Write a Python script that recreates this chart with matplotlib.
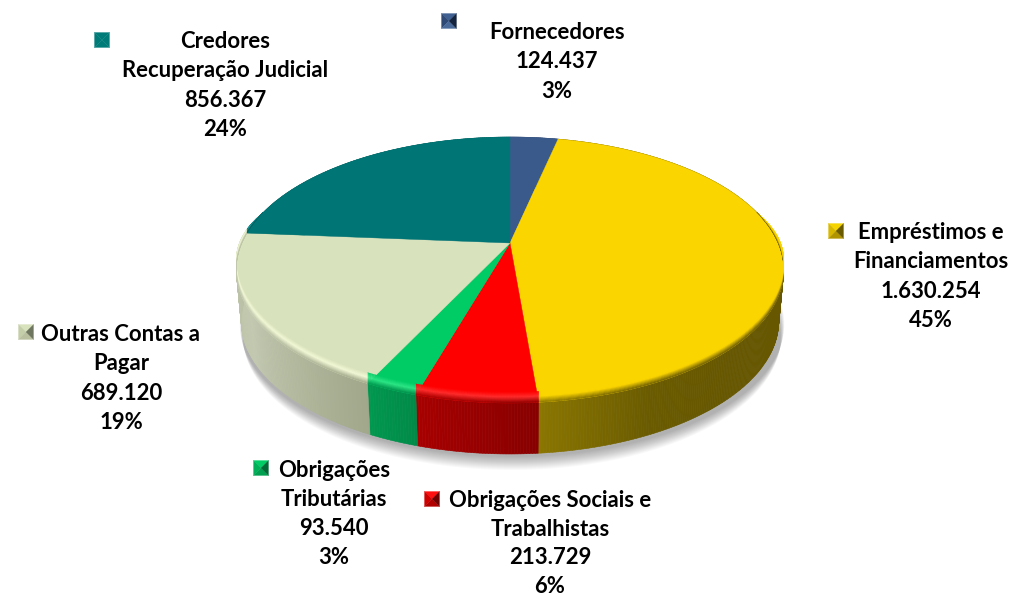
import numpy as np
import matplotlib
matplotlib.use("Agg")
import matplotlib.pyplot as plt
from matplotlib.collections import PolyCollection
from matplotlib.colors import to_rgb

# ........................ Data ........................
categories = [
    ["Fornecedores"],
    ["Empréstimos e", "Financiamentos"],
    ["Obrigações Sociais e", "Trabalhistas"],
    ["Obrigações", "Tributárias"],
    ["Outras Contas a", "Pagar"],
    ["Credores", "Recuperação Judicial"],
]
values = [124437, 1630254, 213729, 93540, 689120, 856367]

# ........................ Styles ........................
top_colors = ["#3a5a8c", "#fbd500", "#ff0000", "#00cc66", "#d8e2bc", "#007575"]
# wall colour going clockwise along each slice
wall_colors = [
    ["#2c4468", "#2c4468"],
    ["#665700"] * 7 + ["#6a5b00", "#8a7600"],
    ["#880000", "#a80000"],
    ["#008a48", "#00984f"],
    ["#a0a78a", "#c3cab0", "#b6bda2"],
    ["#005858", "#005858"],
]
bevel_light = ["#5a7aac", "#fbd500", "#ff3030", "#30e888", "#f4fad8", "#20a0a0"]
# marker triangles: top, left, bottom, right
marker_colors = [
    ["#3f6090", "#2f4a74", "#4a6a9a", "#14233e"],
    ["#f5d400", "#d8b800", "#b09400", "#6a5a00"],
    ["#ff1010", "#d00000", "#b00000", "#700000"],
    ["#00cc66", "#00b058", "#00a050", "#006a36"],
    ["#d8e2bc", "#c4cea8", "#b8c0a0", "#6f7660"],
    ["#007b78", "#007b78", "#007b78", "#007b78"],
]
# text centre x, first baseline y, line height, marker x, marker y
label_pos = [
    (557, 39, 29.4, 449, 21),
    (931, 239, 29.4, 836, 231),
    (550, 507, 28.6, 432, 499),
    (334, 477, 29.0, 261, 468),
    (121, 341, 29.4, 26, 332),
    (225, 48, 29.4, 102, 40),
]

cx, cy = 510, 243
rx, ry, persp = 268, 127.5, 0.203
depth, bottom_scale = 51, 0.982
bevel = 11


def project(theta, r=1.0):
    # theta is clockwise from the top of the disc
    x, y = r * np.sin(theta), r * np.cos(theta)
    d = 1 + persp * y
    return cx + rx * x / d, cy - ry * y / d


def blend(c1, c2, t):
    return tuple((1 - t) * a + t * b for a, b in zip(to_rgb(c1), to_rgb(c2)))


def ramp(stops, t):
    pos = t * (len(stops) - 1)
    i = min(int(pos), len(stops) - 2)
    return blend(stops[i], stops[i + 1], pos - i)


fig = plt.figure(figsize=(10.12, 5.97), dpi=100)
ax = fig.add_axes([0, 0, 1, 1])
ax.set_xlim(0, 1012)
ax.set_ylim(597, 0)
ax.axis("off")

total = sum(values)
edges = 2 * np.pi * np.concatenate([[0], np.cumsum(values)]) / total

# soft shadow under the disc
ring = np.linspace(0, 2 * np.pi, 361)
rim_x, rim_y = project(ring)
for k in range(14):
    ax.fill(cx + (rim_x - cx) * (bottom_scale + 0.001 * k) + 2,
            rim_y + depth + 16 - k, color="#000000", alpha=0.022, lw=0, zorder=1)

# walls
wall_polys, wall_cols = [], []
for i in range(len(values)):
    n = max(int((edges[i + 1] - edges[i]) / np.radians(0.5)), 2)
    th = np.linspace(edges[i], edges[i + 1], n + 1)
    xs, ys = project(th)
    for j in range(n):
        a, b = j, j + 1
        wall_polys.append([
            (xs[a], ys[a]), (xs[b], ys[b]),
            (cx + (xs[b] - cx) * bottom_scale, ys[b] + depth),
            (cx + (xs[a] - cx) * bottom_scale, ys[a] + depth),
        ])
        wall_cols.append(ramp(wall_colors[i], (j + 0.5) / n))
ax.add_collection(PolyCollection(wall_polys, facecolors=wall_cols, edgecolors=wall_cols,
                                 linewidths=0.4, zorder=2))

# top surface
for i in range(len(values)):
    th = np.linspace(edges[i], edges[i + 1], 200)
    xs, ys = project(th)
    ax.fill(np.r_[cx, xs], np.r_[cy, ys], color=top_colors[i], lw=0.3, zorder=3)

# bevel on the front of the rim, flat top -> light -> wall
bev_polys, bev_cols = [], []
layers = 12
for i in range(len(values)):
    n = max(int((edges[i + 1] - edges[i]) / np.radians(0.5)), 2)
    th = np.linspace(edges[i], edges[i + 1], n + 1)
    xs, ys = project(th)
    # bevel fades out towards the sides of the disc
    fade = np.clip((0.25 - np.cos(th)) / 0.45, 0, 1)
    for j in range(n):
        if fade[j] <= 0 and fade[j + 1] <= 0:
            continue
        wc = ramp(wall_colors[i], (j + 0.5) / n)
        for k in range(layers):
            t = (k + 0.5) / layers
            o1 = -bevel * (1 - k / layers)
            o2 = -bevel * (1 - (k + 1) / layers)
            if t < 0.45:
                c = blend(top_colors[i], bevel_light[i], t / 0.45)
            else:
                c = blend(bevel_light[i], wc, (t - 0.45) / 0.55)
            bev_polys.append([(xs[j], ys[j] + o1 * fade[j]), (xs[j + 1], ys[j + 1] + o1 * fade[j + 1]),
                              (xs[j + 1], ys[j + 1] + o2 * fade[j + 1]), (xs[j], ys[j] + o2 * fade[j])])
            bev_cols.append(c)
ax.add_collection(PolyCollection(bev_polys, facecolors=bev_cols, edgecolors=bev_cols,
                                 linewidths=0.2, zorder=4))

# labels
for i, lines in enumerate(categories):
    tx, ty, lh, mx, my = label_pos[i]
    share = round(100 * values[i] / total)
    rows = lines + [f"{values[i]:,}".replace(",", "."), f"{share}%"]
    for k, row in enumerate(rows):
        ax.text(tx, ty + k * lh, row, ha="center", va="baseline", color="black",
                family="Lato", fontweight="bold", fontsize=15.9, zorder=6)
    # pyramid marker
    s = 7.5
    corners = [(mx - s, my - s), (mx + s, my - s), (mx + s, my + s), (mx - s, my + s)]
    tris = [(0, 1), (3, 0), (2, 3), (1, 2)]
    for (p, q), col in zip(tris, marker_colors[i]):
        ax.fill([corners[p][0], corners[q][0], mx], [corners[p][1], corners[q][1], my],
                color=col, lw=0.2, zorder=6)

fig.savefig("out.png", dpi=100)
